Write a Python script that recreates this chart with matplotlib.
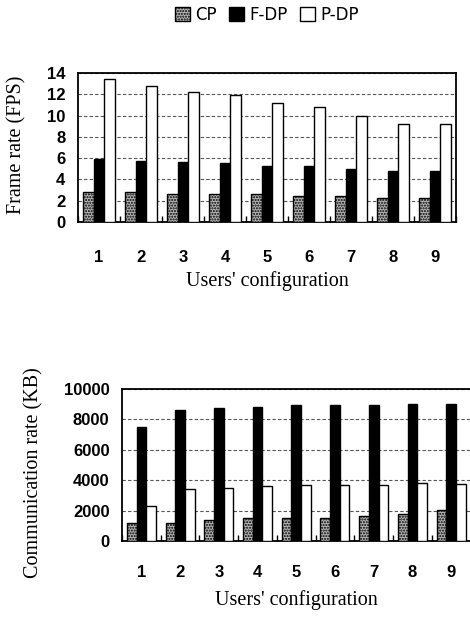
"""Frame rate and communication rate per users' configuration (CP / F-DP / P-DP)."""

import numpy as np
import matplotlib

matplotlib.use("Agg")

import matplotlib.pyplot as plt
from matplotlib.patches import Patch


CONFIGS = ["1", "2", "3", "4", "5", "6", "7", "8", "9"]
SERIES = ["CP", "F-DP", "P-DP"]

FPS_CP = [2.8, 2.8, 2.6, 2.6, 2.6, 2.4, 2.4, 2.3, 2.3]
FPS_FDP = [5.9, 5.7, 5.6, 5.5, 5.3, 5.3, 5.0, 4.8, 4.8]
FPS_PDP = [13.4, 12.8, 12.2, 11.9, 11.2, 10.8, 10.0, 9.2, 9.2]

KB_CP = [1200, 1180, 1380, 1510, 1510, 1500, 1620, 1750, 2020]
KB_FDP = [7520, 8620, 8750, 8840, 8970, 8950, 8950, 9030, 9030]
KB_PDP = [2300, 3400, 3490, 3600, 3680, 3680, 3660, 3790, 3770]

SERIF = "Liberation Serif"
SANS = "Liberation Sans"
STYLES = [
    {"facecolor": "#b4b4b4", "hatch": "......"},
    {"facecolor": "black", "hatch": None},
    {"facecolor": "white", "hatch": None},
]


def draw_panel(ax, data, ylim, ystep, ylabel, ylabel_y, xlabel_y, ylabel_x, xpad):
    x = np.arange(len(CONFIGS))
    width = 0.25
    for k, (vals, style) in enumerate(zip(data, STYLES)):
        ax.bar(x + (k - 1) * width, vals, width, color=style["facecolor"], hatch=style["hatch"],
               edgecolor="black", linewidth=1.0, zorder=3)
    ax.set_xlim(-0.5, len(CONFIGS) - 0.5)
    ax.set_ylim(*ylim)
    ax.set_yticks(np.arange(ylim[0], ylim[1] + ystep / 2, ystep))
    ax.set_xticks(x)
    ax.set_xticklabels(CONFIGS)
    ax.set_xticks(np.arange(-0.5, len(CONFIGS)), minor=True)
    ax.tick_params(axis="x", which="major", length=0, pad=xpad)
    ax.tick_params(axis="x", which="minor", direction="in", length=4, width=1.0)
    ax.tick_params(axis="y", length=0, pad=9)
    for lab in ax.get_xticklabels() + ax.get_yticklabels():
        lab.set_family(SANS)
        lab.set_fontweight("bold")
        lab.set_fontsize(12)
    ax.grid(axis="y", color="#555555", linestyle=(0, (3, 2)), linewidth=0.8, zorder=0)
    for sp in ax.spines.values():
        sp.set_linewidth(1.3)
    ax.set_ylabel(ylabel, family=SERIF, fontsize=14.5, va="center")
    ax.yaxis.set_label_coords(ylabel_x, ylabel_y)
    ax.set_xlabel("Users' configuration", family=SERIF, fontsize=14.5, va="center")
    ax.xaxis.set_label_coords(0.5, xlabel_y)


def main():
    fig = plt.figure(figsize=(4.70, 6.17), dpi=100)
    fig.patch.set_facecolor("white")

    W, H = 470.0, 617.0
    ax1 = fig.add_axes([78 / W, 1 - 222 / H, 378 / W, 149 / H])
    draw_panel(ax1, [FPS_CP, FPS_FDP, FPS_PDP], (0, 14), 2, "Frame rate (FPS)",
               0.517, -0.396, -0.161, 20)

    ax2 = fig.add_axes([122 / W, 1 - 541 / H, 348.5 / W, 152 / H])
    draw_panel(ax2, [KB_CP, KB_FDP, KB_PDP], (0, 10000), 2000, "Communication rate (KB)",
               0.447, -0.388, -0.2525, 17)

    handles = [Patch(facecolor=s["facecolor"], hatch=s["hatch"], edgecolor="black", linewidth=1.0)
               for s in STYLES]
    fig.legend(handles, SERIES, loc="center", bbox_to_anchor=(267 / W, 1 - 15 / H), ncol=3,
               frameon=False, prop={"family": "DejaVu Sans", "size": 12},
               handlelength=0.9, handleheight=0.9, handletextpad=0.35, columnspacing=0.7,
               borderpad=0.0)

    fig.savefig("out.png", dpi=100, facecolor="white")
    plt.close(fig)


if __name__ == "__main__":
    main()
